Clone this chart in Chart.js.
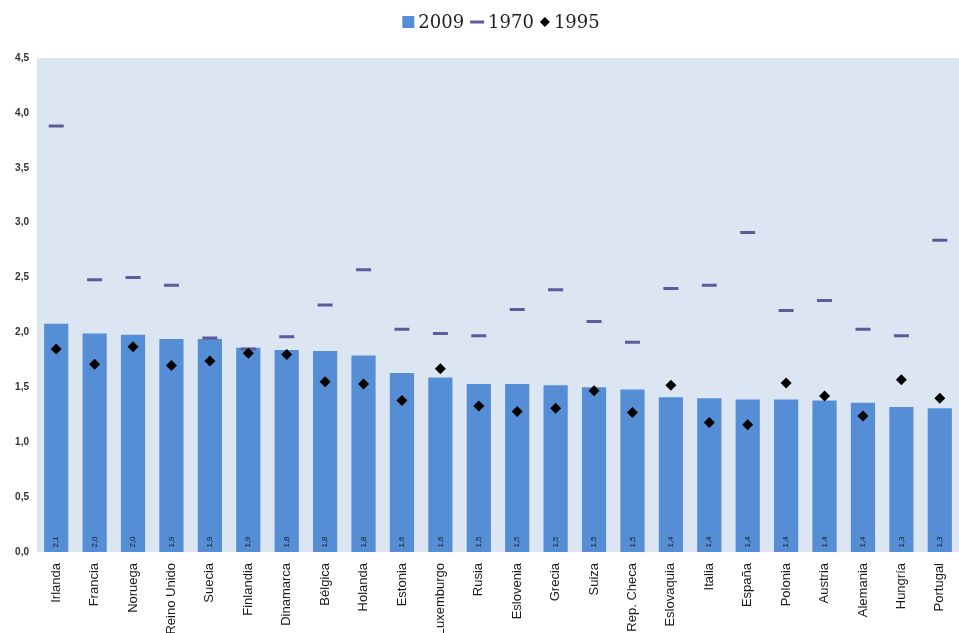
<!DOCTYPE html>
<html>
<head>
<meta charset="utf-8">
<script src="https://cdn.jsdelivr.net/npm/chart.js@4/dist/chart.umd.min.js"></script>
<style>
  html, body { margin: 0; padding: 0; background: #ffffff; overflow: hidden; }
  #wrap { width: 959px; height: 633px; position: relative; }
</style>
</head>
<body>
<div id="wrap"><canvas id="c" width="959" height="633"></canvas></div>
<script>
// Países ordenados por la tasa de fecundidad de 2009
const paises = ['Irlanda', 'Francia', 'Noruega', 'Reino Unido', 'Suecia', 'Finlandia',
  'Dinamarca', 'Bélgica', 'Holanda', 'Estonia', 'Luxemburgo', 'Rusia', 'Eslovenia',
  'Grecia', 'Suiza', 'Rep. Checa', 'Eslovaquia', 'Italia', 'España', 'Polonia',
  'Austria', 'Alemania', 'Hungría', 'Portugal'];

const fecundidad2009 = [2.08, 1.99, 1.98, 1.94, 1.94, 1.86, 1.84, 1.83, 1.79, 1.63, 1.59, 1.53,
  1.53, 1.52, 1.50, 1.48, 1.41, 1.40, 1.39, 1.39, 1.38, 1.36, 1.32, 1.31];

const fecundidad1970 = [3.88, 2.48, 2.50, 2.43, 1.95, 1.85, 1.96, 2.25, 2.57, 2.03, 1.99, 1.97,
  2.21, 2.39, 2.10, 1.91, 2.40, 2.43, 2.91, 2.20, 2.29, 2.03, 1.97, 2.84];

const fecundidad1995 = [1.85, 1.71, 1.87, 1.70, 1.74, 1.81, 1.80, 1.55, 1.53, 1.38, 1.67, 1.33,
  1.28, 1.31, 1.47, 1.27, 1.52, 1.18, 1.16, 1.54, 1.42, 1.24, 1.57, 1.40];

const ejeY = { min: 0, max: 4.5, paso: 0.5 };

const COLOR_BARRA = '#558ed5';
const COLOR_1970 = '#5e5a9c';
const COLOR_1995 = '#000000';
const FONDO_AREA = '#dce6f2';

const coma = v => v.toFixed(1).replace('.', ',');

// Fondo azul claro del área de trazado
const fondoArea = {
  id: 'fondoArea',
  beforeDraw(chart) {
    const { ctx, chartArea: a } = chart;
    ctx.save();
    ctx.fillStyle = FONDO_AREA;
    ctx.fillRect(a.left, a.top, a.right - a.left, a.bottom - a.top);
    ctx.restore();
  }
};

// Valor de 2009 escrito en vertical al pie de cada barra
const etiquetasBarras = {
  id: 'etiquetasBarras',
  afterDatasetsDraw(chart) {
    const { ctx } = chart;
    const meta = chart.getDatasetMeta(0);
    const datos = chart.data.datasets[0].data;
    ctx.save();
    ctx.fillStyle = '#1a1a1a';
    ctx.font = '8px "Liberation Sans Narrow", "Liberation Sans", Arial, sans-serif';
    ctx.textAlign = 'center';
    ctx.textBaseline = 'middle';
    meta.data.forEach((bar, i) => {
      ctx.save();
      ctx.translate(bar.x, bar.base - 10);
      ctx.rotate(-Math.PI / 2);
      ctx.fillText(coma(datos[i]), 0, 0);
      ctx.restore();
    });
    ctx.restore();
  }
};

// Leyenda superior: cuadrado, guion y rombo
const leyenda = {
  id: 'leyenda',
  afterDraw(chart) {
    const { ctx } = chart;
    const ds = chart.data.datasets;
    const fuente = '18px "DejaVu Serif", "Liberation Serif", Georgia, serif';
    ctx.save();
    ctx.font = fuente;
    const iconos = [13, 16, 12];
    const huecoTexto = 3, huecoItem = 5;
    let total = 0;
    ds.forEach((d, i) => {
      total += iconos[i] + huecoTexto + ctx.measureText(d.label).width;
      if (i < ds.length - 1) total += huecoItem;
    });
    const cy = 22;
    let x = 501 - total / 2;
    ds.forEach((d, i) => {
      const w = iconos[i];
      if (i === 0) {
        ctx.fillStyle = COLOR_BARRA;
        ctx.fillRect(x, cy - 6, 12, 12);
      } else if (i === 1) {
        ctx.fillStyle = COLOR_1970;
        ctx.fillRect(x + 1, cy - 1.5, 14, 3);
      } else {
        ctx.fillStyle = COLOR_1995;
        ctx.beginPath();
        ctx.moveTo(x + 6, cy - 5);
        ctx.lineTo(x + 11, cy);
        ctx.lineTo(x + 6, cy + 5);
        ctx.lineTo(x + 1, cy);
        ctx.closePath();
        ctx.fill();
      }
      x += w + huecoTexto;
      ctx.fillStyle = '#222222';
      ctx.textAlign = 'left';
      ctx.textBaseline = 'middle';
      ctx.fillText(d.label, x, cy + 1);
      x += ctx.measureText(d.label).width + huecoItem;
    });
    ctx.restore();
  }
};

new Chart(document.getElementById('c'), {
  type: 'bar',
  data: {
    labels: paises,
    datasets: [
      {
        label: '2009',
        data: fecundidad2009,
        backgroundColor: COLOR_BARRA,
        borderWidth: 0,
        categoryPercentage: 1,
        barPercentage: 0.63,
        order: 3
      },
      {
        type: 'line',
        label: '1970',
        data: fecundidad1970,
        showLine: false,
        pointStyle: 'line',
        pointRadius: 7.5,
        pointBorderWidth: 3,
        borderColor: COLOR_1970,
        backgroundColor: COLOR_1970,
        order: 2
      },
      {
        type: 'line',
        label: '1995',
        data: fecundidad1995,
        showLine: false,
        pointStyle: 'rectRot',
        pointRadius: 5.5,
        pointBorderWidth: 0,
        borderColor: COLOR_1995,
        backgroundColor: COLOR_1995,
        order: 1
      }
    ]
  },
  options: {
    responsive: false,
    animation: false,
    devicePixelRatio: 1,
    layout: { autoPadding: false, padding: { top: 58, left: 0, right: 0, bottom: 0 } },
    plugins: {
      legend: { display: false },
      tooltip: { enabled: false }
    },
    scales: {
      x: {
        grid: { display: false, drawTicks: false },
        border: { display: false },
        ticks: {
          autoSkip: false,
          minRotation: 90,
          maxRotation: 90,
          padding: 11,
          color: '#1a1a1a',
          font: { family: '"Liberation Sans", Arial, sans-serif', size: 13 }
        },
        afterFit(scale) {
          scale.height = 81;
          scale.paddingLeft = 0;
          scale.paddingRight = 0;
        }
      },
      y: {
        min: ejeY.min,
        max: ejeY.max,
        grid: { display: false, drawTicks: false },
        border: { display: false },
        ticks: {
          stepSize: ejeY.paso,
          padding: 8,
          color: '#333333',
          font: { family: '"Liberation Sans Narrow", "Liberation Sans", Arial, sans-serif', size: 10, weight: 'bold' },
          callback: v => coma(v)
        },
        afterFit(scale) {
          scale.width = 37;
        }
      }
    }
  },
  plugins: [fondoArea, etiquetasBarras, leyenda]
});
</script>
</body>
</html>
